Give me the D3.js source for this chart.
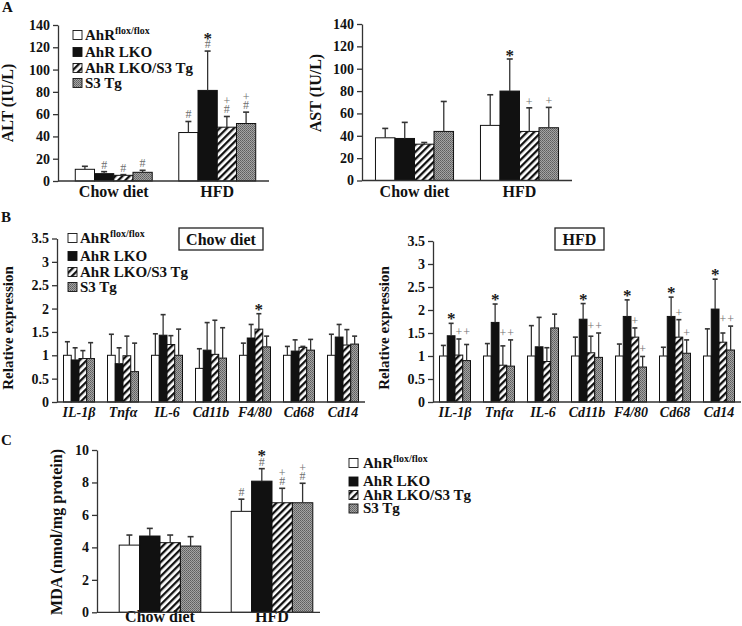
<!DOCTYPE html>
<html><head><meta charset="utf-8">
<script src="https://cdn.jsdelivr.net/npm/d3@7"></script>
<style>body{margin:0;background:#fff} svg{display:block} text{font-family:"Liberation Serif","Times New Roman",serif;}</style>
</head><body><svg id="c" width="742" height="626"></svg>
<script>
// ---------- DATA ----------
const seriesKeys = ["flox", "lko", "lkoS3", "s3"];
const seriesLabels = ["AhR", "AhR LKO", "AhR LKO/S3 Tg", "S3 Tg"];
const seriesSup = ["flox/flox", "", "", ""];
const dietGroups = ["Chow diet", "HFD"];

// Panel A: ALT (IU/L)   [group][series]
const altMean = [[10.5, 6.6, 5.1, 7.8], [43.5, 81.3, 48.3, 51.6]];
const altUpper = [[13.2, 8.4, 5.7, 9.6], [53.4, 116.6, 57.9, 61.8]];
const altMarks = [[[], ["#"], ["#"], ["#"]], [["#"], ["#", "*"], ["#", "+"], ["#", "+"]]];
const altTicks = [0, 20, 40, 60, 80, 100, 120, 140];

// Panel A: AST (IU/L)
const astMean = [[38.2, 37.6, 32.5, 43.9], [49.3, 80.0, 43.9, 47.2]];
const astUpper = [[46.6, 52.0, 34.0, 70.7], [76.7, 108.7, 65.0, 65.4]];
const astMarks = [[[], [], [], []], [[], ["*"], ["+"], ["+"]]];
const astTicks = [0, 20, 40, 60, 80, 100, 120, 140];

// Panel B: relative expression
const genes = ["IL-1β", "Tnfα", "IL-6", "Cd11b", "F4/80", "Cd68", "Cd14"];
const chowExpr = [[1.0, 0.9, 0.93, 0.93], [1.0, 0.82, 0.99, 0.65], [1.0, 1.43, 1.23, 1.0], [0.72, 1.11, 1.02, 0.94],
                  [1.0, 1.37, 1.56, 1.18], [1.0, 1.09, 1.17, 1.11], [1.0, 1.39, 1.22, 1.24]];
const chowExprUpper = [[1.29, 1.16, 1.1, 1.27], [1.45, 1.16, 1.41, 1.26], [1.46, 1.87, 1.42, 1.56], [1.14, 1.7, 1.75, 1.59],
                       [1.26, 1.66, 1.89, 1.41], [1.19, 1.33, 1.19, 1.34], [1.45, 1.66, 1.55, 1.41]];
const chowExprMarks = [[[], [], [], []], [[], [], [], []], [[], [], [], []], [[], [], [], []],
                       [[], [], ["*"], []], [[], [], [], []], [[], [], [], []]];
const hfdExpr = [[1.0, 1.44, 1.02, 0.9], [1.0, 1.73, 0.8, 0.78], [1.0, 1.2, 0.88, 1.61], [1.0, 1.8, 1.07, 0.97],
                 [1.0, 1.86, 1.41, 0.76], [1.0, 1.86, 1.41, 1.06], [1.0, 2.02, 1.3, 1.13]];
const hfdExprUpper = [[1.23, 1.71, 1.37, 1.25], [1.27, 2.13, 1.22, 1.35], [1.66, 1.84, 1.18, 1.91], [1.41, 2.14, 1.43, 1.5],
                      [1.26, 2.22, 1.61, 0.99], [1.19, 2.28, 1.79, 1.35], [1.59, 2.67, 1.5, 1.65]];
const hfdExprMarks = [[[], ["*"], ["+"], ["+"]], [[], ["*"], ["+"], ["+"]], [[], [], [], []], [[], ["*"], ["+"], ["+"]],
                      [[], ["*"], ["+"], ["+"]], [[], ["*"], ["+"], ["+"]], [[], ["*"], ["+"], ["+"]]];
const hfdPairedPlus = [true, true, false, true, false, false, true];
const exprTicks = [0, 0.5, 1, 1.5, 2, 2.5, 3, 3.5];
const exprTickLabels = ["0", "0.5", "1", "1.5", "2", "2.5", "3", "3.5"];

// Panel C: MDA (nmol/mg protein)
const mdaMean = [[4.14, 4.7, 4.29, 4.08], [6.22, 8.08, 6.75, 6.75]];
const mdaUpper = [[4.76, 5.17, 4.76, 4.66], [6.97, 8.85, 7.64, 7.95]];
const mdaMarks = [[[], [], [], []], [["#"], ["#", "*"], ["#", "+"], ["#", "+"]]];
const mdaTicks = [0, 2, 4, 6, 8, 10];

// ---------- DRAWING ----------
const svg = d3.select("#c");
const defs = svg.append("defs");
const hatch = defs.append("pattern").attr("id", "hatch").attr("patternUnits", "userSpaceOnUse")
  .attr("width", 5).attr("height", 5).attr("patternTransform", "rotate(45)");
hatch.append("rect").attr("width", 5).attr("height", 5).attr("fill", "#fff");
hatch.append("rect").attr("width", 2.3).attr("height", 5).attr("fill", "#111");
const dots = defs.append("pattern").attr("id", "dots").attr("patternUnits", "userSpaceOnUse")
  .attr("width", 2).attr("height", 2);
dots.append("rect").attr("width", 2).attr("height", 2).attr("fill", "#a4a4a4");
dots.append("rect").attr("width", 1).attr("height", 1).attr("fill", "#5e5e5e");
dots.append("rect").attr("x", 1).attr("y", 1).attr("width", 1).attr("height", 1).attr("fill", "#6e6e6e");

const fills = { flox: "#fff", lko: "#111", lkoS3: "url(#hatch)", s3: "url(#dots)" };
const FONT = '"Liberation Serif","Times New Roman",serif';

function markStyle(sel, m) {
  if (m === "*") sel.attr("font-size", 17).attr("font-weight", "bold").attr("fill", "#1a1a1a");
  else sel.attr("font-size", 12).attr("font-weight", "normal").attr("fill", "#707070");
}
const markGeom = { "#": { b: 0, h: 8.5 }, "+": { b: 1, h: 7 }, "*": { b: 5, h: 8 } };

function panel(cfg) {
  const g = svg.append("g");
  const y = d3.scaleLinear().domain([0, cfg.yMax]).range(cfg.yRange);
  const x0 = d3.scaleBand().domain(cfg.cats).range(cfg.xRange);
  const x1 = d3.scaleBand().domain(seriesKeys).range([0, x0.bandwidth()]).paddingOuter(cfg.padOuter);
  const bw = x1.bandwidth();

  // axis
  const ax = d3.axisLeft(y).tickValues(cfg.ticks).tickSize(5).tickSizeOuter(0).tickPadding(3)
    .tickFormat((d, i) => cfg.tickLabels ? cfg.tickLabels[i] : d);
  const axg = g.append("g").attr("transform", `translate(${cfg.axisX},0)`).call(ax);
  axg.selectAll("path,line").attr("stroke", "#333").attr("stroke-width", 1.3);
  axg.selectAll("text").attr("font-family", FONT).attr("font-weight", "bold")
    .attr("font-size", cfg.tickFont).attr("fill", "#111");

  // bars
  cfg.cats.forEach((c, ci) => {
    seriesKeys.forEach((s, si) => {
      const v = cfg.mean[ci][si], up = cfg.upper[ci][si];
      const xl = x0(c) + x1(s);
      g.append("rect").attr("x", xl).attr("y", y(v)).attr("width", bw).attr("height", y(0) - y(v))
        .attr("fill", fills[s]).attr("stroke", "#111").attr("stroke-width", 1);
      const xc = xl + bw / 2;
      if (up > v) {
        g.append("line").attr("x1", xc).attr("x2", xc).attr("y1", y(v)).attr("y2", y(up))
          .attr("stroke", "#333").attr("stroke-width", 1.3);
        g.append("line").attr("x1", xc - cfg.capW / 2).attr("x2", xc + cfg.capW / 2).attr("y1", y(up)).attr("y2", y(up))
          .attr("stroke", "#333").attr("stroke-width", 1.6);
      }
      let level = up;
      if (cfg.paired && cfg.paired[ci] && si >= 2) level = Math.max(cfg.upper[ci][2], cfg.upper[ci][3]);
      let cursor = y(level) - cfg.markGap;
      (cfg.marks[ci][si] || []).forEach(m => {
        const gm = markGeom[m];
        const t = g.append("text").attr("x", xc).attr("y", cursor + gm.b).attr("text-anchor", "middle")
          .attr("font-family", FONT).text(m);
        markStyle(t, m);
        cursor -= gm.h + 1;
      });
    });
    // category label
    g.append("text").attr("x", x0(c) + x0.bandwidth() / 2).attr("y", cfg.labelY)
      .attr("text-anchor", "middle").attr("font-family", FONT).attr("font-weight", "bold")
      .attr("font-style", cfg.italic ? "italic" : "normal")
      .attr("font-size", cfg.labelFont).attr("fill", "#111").text(c);
  });
  // baseline
  g.append("line").attr("x1", cfg.base[0]).attr("x2", cfg.base[1]).attr("y1", y(0)).attr("y2", y(0))
    .attr("stroke", "#333").attr("stroke-width", 1.3);
  // y title
  g.append("text").attr("transform", `translate(${cfg.title[1]},${cfg.title[2]}) rotate(-90)`)
    .attr("text-anchor", "middle").attr("font-family", FONT).attr("font-weight", "bold")
    .attr("font-size", cfg.titleFont).attr("fill", "#111").text(cfg.title[0]);
  return g;
}

function legend(x, ys, sq, font, tx) {
  const g = svg.append("g");
  seriesKeys.forEach((s, i) => {
    g.append("rect").attr("x", x).attr("y", ys[i] - sq / 2).attr("width", sq).attr("height", sq)
      .attr("fill", fills[s]).attr("stroke", "#111").attr("stroke-width", 0.9);
    const t = g.append("text").attr("x", tx).attr("y", ys[i] + font * 0.33).attr("font-family", FONT)
      .attr("font-weight", "bold").attr("font-size", font).attr("fill", "#111").text(seriesLabels[i]);
    if (seriesSup[i]) t.append("tspan").attr("font-size", font * 0.66).attr("dy", -font * 0.38).text(seriesSup[i]);
  });
}

function panelLetter(l, x, y) {
  svg.append("text").attr("x", x).attr("y", y).attr("font-family", FONT).attr("font-weight", "bold")
    .attr("font-size", 15).attr("fill", "#111").text(l);
}

// ---- Panel A ----
panelLetter("A", 2, 12);
panel({ cats: dietGroups, mean: altMean, upper: altUpper, marks: altMarks, ticks: altTicks, yMax: 140,
  yRange: [181, 25], xRange: [62, 269], padOuter: 0.69, axisX: 58, base: [58, 269], capW: 6,
  tickFont: 14, labelFont: 16, labelY: 197, title: ["ALT (IU/L)", 13, 103], titleFont: 16, markGap: 3 });
legend(73, [35, 52, 68, 83], 9, 15, 85);
panel({ cats: dietGroups, mean: astMean, upper: astUpper, marks: astMarks, ticks: astTicks, yMax: 140,
  yRange: [180.5, 24], xRange: [362, 572], padOuter: 0.69, axisX: 362, base: [362, 572], capW: 6,
  tickFont: 14, labelFont: 16, labelY: 197, title: ["AST (IU/L)", 321, 93], titleFont: 16, markGap: 3 });

// ---- Panel B ----
panelLetter("B", 1, 222);
panel({ cats: genes, mean: chowExpr, upper: chowExprUpper, marks: chowExprMarks, ticks: exprTicks, tickLabels: exprTickLabels,
  yMax: 3.5, yRange: [402, 238.5], xRange: [57, 365], padOuter: 0.84, axisX: 57, base: [57, 365], capW: 5,
  tickFont: 14, labelFont: 14, labelY: 417, italic: true, title: ["Relative expression", 13, 328], titleFont: 15, markGap: 4 });
legend(68, [238, 256, 272, 287], 9, 15, 80);
panel({ cats: genes, mean: hfdExpr, upper: hfdExprUpper, marks: hfdExprMarks, paired: hfdPairedPlus, ticks: exprTicks,
  tickLabels: exprTickLabels, yMax: 3.5, yRange: [402, 241], xRange: [433, 741], padOuter: 0.84, axisX: 433, base: [433, 741],
  capW: 5, tickFont: 14, labelFont: 14, labelY: 417, italic: true, title: ["Relative expression", 389, 328], titleFont: 15, markGap: 4 });

function box(label, x, y, w, h) {
  svg.append("rect").attr("x", x).attr("y", y).attr("width", w).attr("height", h)
    .attr("fill", "#fff").attr("stroke", "#222").attr("stroke-width", 1.3);
  svg.append("text").attr("x", x + w / 2).attr("y", y + h / 2 + 5.5).attr("text-anchor", "middle")
    .attr("font-family", FONT).attr("font-weight", "bold").attr("font-size", 16).attr("fill", "#111").text(label);
}
box(dietGroups[0], 179, 228, 84, 22);
box(dietGroups[1], 555, 228, 49, 22);

// ---- Panel C ----
panelLetter("C", 1, 445);
panel({ cats: dietGroups, mean: mdaMean, upper: mdaUpper, marks: mdaMarks, ticks: mdaTicks, yMax: 10,
  yRange: [612.3, 450], xRange: [104, 328], padOuter: 0.745, axisX: 97, base: [97, 320], capW: 6,
  tickFont: 14, labelFont: 16, labelY: 622, title: ["MDA (nmol/mg protein)", 62, 532], titleFont: 16, markGap: 3 });
legend(349, [463, 481.5, 495, 508.5], 9, 15, 363);
</script></body></html>
